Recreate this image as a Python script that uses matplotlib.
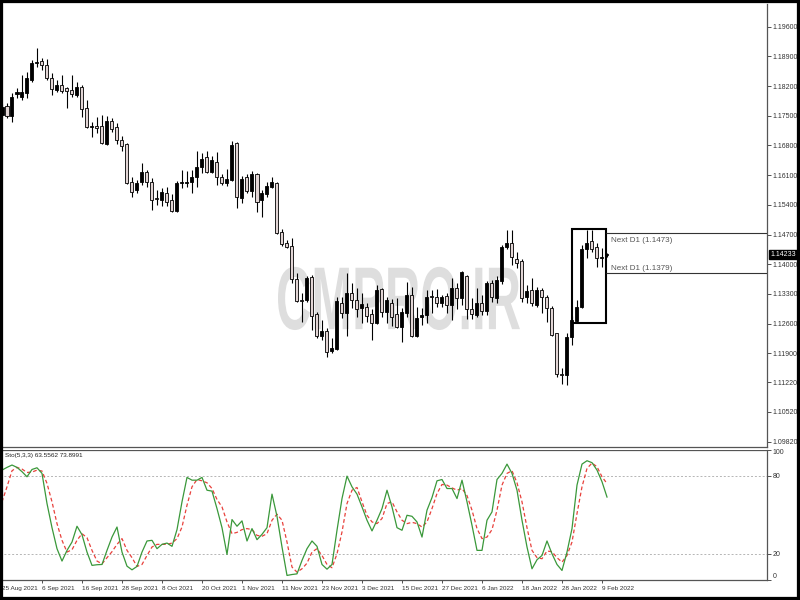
import matplotlib
matplotlib.use('Agg')
import matplotlib.pyplot as plt
import numpy as np
from matplotlib.patches import Rectangle, PathPatch
from matplotlib.textpath import TextPath
from matplotlib.font_manager import FontProperties
from matplotlib.transforms import Affine2D, blended_transform_factory

plt.rcParams['font.family'] = ['Liberation Sans', 'DejaVu Sans']

# ---------------- data ----------------
date_labels = ["25 Aug 2021", "6 Sep 2021", "16 Sep 2021", "28 Sep 2021", "8 Oct 2021",
               "20 Oct 2021", "1 Nov 2021", "11 Nov 2021", "23 Nov 2021", "3 Dec 2021",
               "15 Dec 2021", "27 Dec 2021", "6 Jan 2022", "18 Jan 2022", "28 Jan 2022",
               "9 Feb 2022"]

opens = [1.1752,1.1773,1.1750,1.1801,1.1794,1.1804,1.1834,1.1874,1.1879,1.1870,
         1.1839,1.1811,1.1823,1.1815,1.1811,1.1799,1.1818,1.1768,1.1724,1.1726,
         1.1726,1.1684,1.1738,1.1724,1.1693,1.1684,1.1594,1.1575,1.1594,1.1618,
         1.1594,1.1556,1.1552,1.1568,1.1552,1.1526,1.1592,1.1592,1.1594,1.1606,
         1.1629,1.1653,1.1618,1.1641,1.1606,1.1592,1.1599,1.1686,1.1556,1.1606,
         1.1573,1.1613,1.1552,1.1566,1.1582,1.1592,1.1476,1.1450,1.1443,1.1365,
         1.1316,1.1316,1.1370,1.1283,1.1231,1.1243,1.1196,1.1200,1.1309,1.1285,
         1.1332,1.1316,1.1297,1.1299,1.1283,1.1262,1.1342,1.1288,1.1309,1.1283,
         1.1252,1.1285,1.1328,1.1231,1.1276,1.1280,1.1325,1.1323,1.1309,1.1325,
         1.1304,1.1344,1.1321,1.1372,1.1295,1.1280,1.1309,1.1290,1.1356,1.1321,
         1.1361,1.1441,1.1450,1.1412,1.1408,1.1323,1.1339,1.1304,1.1339,1.1323,
         1.1297,1.1238,1.1141,1.1139,1.1229,1.1266,1.1299,1.1436,1.1455,1.1441,
         1.1414,1.1421]

highs = [1.1778,1.1780,1.1804,1.1815,1.1846,1.1853,1.1881,1.1910,1.1886,1.1884,
         1.1851,1.1834,1.1846,1.1818,1.1846,1.1830,1.1823,1.1787,1.1735,1.1747,
         1.1752,1.1750,1.1745,1.1733,1.1702,1.1686,1.1606,1.1599,1.1639,1.1622,
         1.1603,1.1575,1.1580,1.1582,1.1566,1.1596,1.1622,1.1620,1.1622,1.1667,
         1.1662,1.1667,1.1655,1.1665,1.1613,1.1625,1.1691,1.1688,1.1608,1.1613,
         1.1620,1.1615,1.1575,1.1594,1.1606,1.1594,1.1483,1.1457,1.1462,1.1379,
         1.1332,1.1372,1.1375,1.1288,1.1269,1.1250,1.1226,1.1323,1.1323,1.1379,
         1.1356,1.1344,1.1332,1.1309,1.1295,1.1351,1.1344,1.1323,1.1318,1.1321,
         1.1297,1.1358,1.1346,1.1299,1.1297,1.1339,1.1339,1.1342,1.1328,1.1332,
         1.1368,1.1356,1.1384,1.1375,1.1321,1.1344,1.1328,1.1361,1.1363,1.1372,
         1.1445,1.1481,1.1481,1.1429,1.1412,1.1351,1.1368,1.1346,1.1344,1.1328,
         1.1302,1.1238,1.1156,1.1238,1.1278,1.1316,1.1445,1.1481,1.1481,1.1450,
         1.1438,1.1427]

lows = [1.1745,1.1745,1.1735,1.1792,1.1787,1.1792,1.1830,1.1865,1.1858,1.1834,
        1.1799,1.1806,1.1804,1.1768,1.1794,1.1794,1.1747,1.1721,1.1700,1.1709,
        1.1684,1.1681,1.1712,1.1684,1.1667,1.1589,1.1559,1.1568,1.1587,1.1582,
        1.1528,1.1540,1.1537,1.1537,1.1523,1.1523,1.1580,1.1582,1.1568,1.1582,
        1.1615,1.1615,1.1615,1.1587,1.1587,1.1585,1.1596,1.1533,1.1544,1.1568,
        1.1559,1.1523,1.1511,1.1559,1.1580,1.1471,1.1443,1.1438,1.1356,1.1311,
        1.1264,1.1311,1.1245,1.1226,1.1221,1.1181,1.1191,1.1198,1.1273,1.1231,
        1.1297,1.1276,1.1262,1.1264,1.1221,1.1259,1.1276,1.1262,1.1255,1.1250,
        1.1217,1.1276,1.1229,1.1229,1.1257,1.1262,1.1285,1.1299,1.1299,1.1285,
        1.1269,1.1295,1.1304,1.1271,1.1271,1.1276,1.1280,1.1280,1.1311,1.1309,
        1.1354,1.1436,1.1398,1.1391,1.1311,1.1309,1.1302,1.1299,1.1285,1.1264,
        1.1231,1.1134,1.1118,1.1115,1.1210,1.1264,1.1297,1.1415,1.1429,1.1394,
        1.1394,1.1418]

closes = [1.1771,1.1750,1.1794,1.1806,1.1806,1.1839,1.1874,1.1877,1.1870,1.1839,
          1.1813,1.1823,1.1808,1.1808,1.1801,1.1818,1.1766,1.1724,1.1726,1.1721,
          1.1686,1.1738,1.1719,1.1693,1.1679,1.1592,1.1570,1.1592,1.1618,1.1594,
          1.1552,1.1554,1.1570,1.1547,1.1526,1.1592,1.1594,1.1594,1.1606,1.1629,
          1.1648,1.1618,1.1646,1.1606,1.1592,1.1601,1.1681,1.1559,1.1601,1.1573,
          1.1613,1.1547,1.1568,1.1585,1.1594,1.1474,1.1448,1.1441,1.1365,1.1313,
          1.1313,1.1368,1.1278,1.1231,1.1243,1.1193,1.1203,1.1313,1.1285,1.1332,
          1.1316,1.1295,1.1306,1.1278,1.1262,1.1339,1.1288,1.1316,1.1276,1.1252,
          1.1288,1.1328,1.1231,1.1273,1.1280,1.1323,1.1323,1.1309,1.1323,1.1304,
          1.1344,1.1321,1.1382,1.1295,1.1283,1.1309,1.1290,1.1356,1.1323,1.1363,
          1.1441,1.1450,1.1417,1.1403,1.1321,1.1337,1.1309,1.1339,1.1323,1.1297,
          1.1233,1.1141,1.1139,1.1229,1.1269,1.1299,1.1436,1.1450,1.1436,1.1415,
          1.1418,1.14233]

k_vals = [84.2,86.3,88.1,86.3,83.0,79.1,84.7,86.0,81.7,58.6,
          40.1,24.0,14.5,22.7,29.1,41.2,34.7,21.4,11.2,11.7,
          11.9,22.7,32.9,40.6,21.4,10.6,7.8,10.4,21.4,29.9,
          30.4,24.0,27.3,28.3,25.8,38.6,59.9,78.6,76.5,76.5,
          78.6,68.8,68.1,54.7,40.1,19.6,46.3,41.2,45.3,29.9,
          39.4,30.9,35.0,40.1,65.8,48.8,25.3,3.5,4.2,4.7,
          15.0,24.0,29.9,25.8,11.9,8.3,11.9,38.1,62.4,79.6,
          71.4,65.8,56.0,45.8,37.6,45.8,54.7,68.8,56.0,40.1,
          38.1,49.6,48.8,44.5,32.9,53.5,63.2,76.0,77.0,70.1,
          70.1,62.4,76.5,59.9,41.9,22.7,22.7,45.8,52.2,77.0,
          81.7,88.8,81.7,68.8,45.8,25.3,8.6,15.5,18.8,29.9,
          20.1,11.9,7.3,21.4,39.4,72.7,88.8,91.4,89.9,84.2,
          75.3,63.56]

d_vals = [59.9,71.4,83.7,86.3,85.0,82.4,82.7,84.2,83.5,74.0,
          59.9,43.2,30.4,21.4,23.2,30.4,35.5,32.4,22.7,14.5,
          12.4,17.1,21.7,27.3,31.7,22.7,17.1,10.4,11.9,18.8,
          25.3,27.3,27.3,27.3,28.3,31.7,40.6,57.3,71.4,77.0,
          76.0,74.5,70.1,61.7,56.0,44.5,35.5,36.5,38.6,39.4,
          38.6,34.2,33.5,35.5,45.8,50.4,45.8,29.1,9.9,6.0,
          8.6,12.9,21.4,24.0,18.8,11.9,9.4,20.1,36.8,58.6,
          68.8,70.9,59.9,49.6,44.5,43.2,47.1,58.6,59.9,52.2,
          45.8,43.2,44.2,43.2,40.6,44.5,54.7,66.3,73.2,72.7,
          70.6,68.8,70.1,64.7,53.5,39.4,31.7,32.9,38.6,53.5,
          72.7,81.7,83.7,74.5,59.9,40.1,22.7,17.1,16.3,22.2,
          21.7,17.1,13.7,18.8,29.1,50.9,71.4,85.5,89.6,86.8,
          79.1,73.90]

price_ticks = [1.19600, 1.18900, 1.18200, 1.17500, 1.16800, 1.16100, 1.15400, 1.14700,
               1.14000, 1.13300, 1.12600, 1.11900, 1.11220, 1.10520, 1.09820]
sto_ticks = [0, 20, 80, 100]
sto_levels = [20, 80]
last_price = 1.14233
sto_title = "Sto(5,3,3) 63.5562 73.8991"
next_levels = [1.1473, 1.1379]
box_low, box_high = 1.1262, 1.1483
box_start, box_end = 113.95, 120.8
watermark = "CMPRO.IR"

# ---------------- figure ----------------
fig = plt.figure(figsize=(8, 6), dpi=100)
ax = fig.add_axes([0.0, 153 / 600, 767 / 800, 443 / 600])
ax2 = fig.add_axes([0.0, 20 / 600, 767 / 800, 130.5 / 600])

n = len(opens)
x = np.arange(n)
o = np.array(opens); h = np.array(highs); l = np.array(lows); c = np.array(closes)
up = c >= o

ax.vlines(x, l, h, color='black', lw=0.8, zorder=2)
bb = np.minimum(o, c)
bh = np.maximum(np.abs(c - o), 0.00004)
ax.bar(x[up], bh[up], bottom=bb[up], width=0.6, color='black', edgecolor='black',
       linewidth=0.6, zorder=3)
ax.bar(x[~up], bh[~up], bottom=bb[~up], width=0.6, color='#e2d5d5', edgecolor='black',
       linewidth=0.6, zorder=3)

xlim = (-0.4, 153.0)
ax.set_xlim(*xlim)
ax.set_ylim(1.09693, 1.20135)

# watermark
fp = FontProperties(family=['Liberation Sans', 'DejaVu Sans'], weight='bold')
tp = TextPath((0, 0), watermark, size=1, prop=fp)
ext = tp.get_extents()
wx0, wx1, wy0, wy1 = 55.2, 103.6, 1.1245, 1.1394
tr = (Affine2D().translate(-ext.x0, -ext.y0)
      .scale((wx1 - wx0) / ext.width, (wy1 - wy0) / ext.height)
      .translate(wx0, wy0))
ax.add_patch(PathPatch(tr.transform_path(tp), facecolor='#dedede', edgecolor='none', zorder=1))

# box and next-D1 lines
ax.add_patch(Rectangle((box_start, box_low), box_end - box_start, box_high - box_low,
                       fill=False, edgecolor='black', lw=1.5, zorder=4))
ax.hlines(next_levels, box_end, xlim[1], color='#333333', lw=0.8, zorder=4)
ax.text(box_end + 1.0, next_levels[0] - 0.0018, f"Next D1 ({next_levels[0]:.4f})",
        fontsize=5.8, color='#555555', va='center', ha='left')
ax.text(box_end + 1.0, next_levels[1] + 0.0012, f"Next D1 ({next_levels[1]:.4f})",
        fontsize=5.8, color='#555555', va='center', ha='left')

# right price axis
ax.yaxis.tick_right()
ax.set_yticks(price_ticks)
ax.set_yticklabels([f"{v:.5f}" for v in price_ticks])
ax.tick_params(axis='y', length=3, width=0.6, pad=1.2, labelsize=5, colors='#333333')
ax.set_xticks([])
for s in ['left', 'top']:
    ax.spines[s].set_visible(False)
for s in ['right', 'bottom']:
    ax.spines[s].set_color('#555555')
    ax.spines[s].set_linewidth(0.9)

ax.text(1.0045, last_price, f"{last_price:.5f}",
        transform=blended_transform_factory(ax.transAxes, ax.transData),
        fontsize=5, color='white', va='center', ha='left', zorder=6,
        bbox=dict(boxstyle='square,pad=0.15', fc='black', ec='black'), clip_on=False)

# ---------------- stochastic panel ----------------
ax2.plot(x, d_vals, color='#e8413c', lw=0.9, ls=(0, (3, 2)), zorder=3)
ax2.plot(x, k_vals, color='#3a983a', lw=0.9, zorder=4)
ax2.hlines(sto_levels, xlim[0], xlim[1], color='#b5b5b5', lw=0.7, ls=(0, (2, 2)), zorder=1)
ax2.set_xlim(*xlim)
ax2.set_ylim(0, 100)
ax2.yaxis.tick_right()
ax2.set_yticks(sto_ticks)
ax2.set_yticklabels([str(v) for v in sto_ticks])
ax2.tick_params(axis='y', length=3, width=0.6, pad=1.2, labelsize=5, colors='#333333')
for lab, v in zip(ax2.get_yticklabels(), sto_ticks):
    if v == 100:
        lab.set_va('top')
    elif v == 0:
        lab.set_va('bottom')

tick_pos = x[::8][:len(date_labels)]
ax2.set_xticks(tick_pos)
ax2.set_xticklabels(date_labels)
ax2.tick_params(axis='x', length=2, width=0.6, pad=2, labelsize=4.6, colors='#333333')
for lab in ax2.get_xticklabels():
    lab.set_ha('left')
for s in ['left', 'top']:
    ax2.spines[s].set_visible(False)
for s in ['right', 'bottom']:
    ax2.spines[s].set_color('#555555')
    ax2.spines[s].set_linewidth(0.9)
ax2.axhline(100, color='#555555', lw=0.9, zorder=5)

ax2.text(0.0065, 0.975, sto_title, transform=ax2.transAxes, fontsize=4.6,
         color='#222222', va='top', ha='left')

# outer frame
fig.add_artist(Rectangle((0, 0), 1, 1, transform=fig.transFigure, fill=False,
                         edgecolor='black', lw=4.5, zorder=10))

fig.savefig('out.png', dpi=100)
